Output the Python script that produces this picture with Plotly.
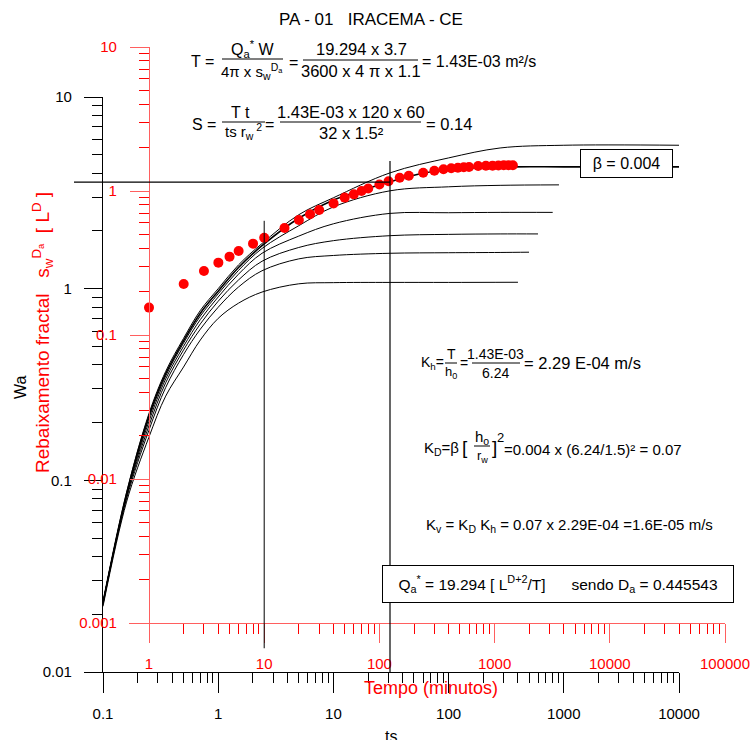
import math
import plotly.graph_objects as go

W, H = 752, 740
FONT = "Liberation Sans, Arial, sans-serif"
RED = "rgb(255,0,0)"
RED_LINE = "rgb(255,95,95)"

# ---------------- data ----------------
ts_early = [0.1, 0.16, 0.25, 0.35, 0.5, 0.7, 1, 1.5, 2.4, 5, 10, 31]

curve1_ts = ts_early + [100, 280, 1000, 10000]
curve1_wa = [0.023, 0.086, 0.222, 0.37, 0.55, 0.77, 1.0, 1.33, 1.72, 2.43, 2.98, 4.02, 4.81, 5.42, 5.6, 5.6]
curve2_ts = ts_early + [60, 120, 360, 1000, 10000]          # beta = 0.004
curve2_wa = [0.023, 0.085, 0.216, 0.36, 0.535, 0.745, 0.97, 1.29, 1.675, 2.33, 2.90, 3.61, 4.0, 4.22, 4.32, 4.32, 4.32]
curve3_ts = ts_early + [100, 280, 908]
curve3_wa = [0.023, 0.084, 0.210, 0.35, 0.52, 0.72, 0.94, 1.245, 1.62, 2.13, 2.67, 3.24, 3.40, 3.46, 3.48]
curve4_ts = ts_early + [100, 280, 801]
curve4_wa = [0.023, 0.083, 0.202, 0.338, 0.50, 0.69, 0.905, 1.19, 1.53, 1.88, 2.18, 2.47, 2.49, 2.50, 2.50]
curve5_ts = ts_early + [100, 280, 597]
curve5_wa = [0.023, 0.082, 0.192, 0.323, 0.478, 0.655, 0.86, 1.11, 1.39, 1.64, 1.78, 1.89, 1.92, 1.93, 1.93]
curve6_ts = ts_early + [100, 280, 499]
curve6_wa = [0.0225, 0.080, 0.182, 0.305, 0.453, 0.615, 0.80, 1.02, 1.24, 1.43, 1.49, 1.53, 1.54, 1.545, 1.55]
curve7_ts = ts_early + [100, 400]
curve7_wa = [0.022, 0.077, 0.1675, 0.275, 0.39, 0.54, 0.70, 0.84, 0.96, 1.06, 1.075, 1.078, 1.078, 1.08]

# observed drawdown (red)
tempo_min = [1, 2, 3, 4, 5, 6, 8, 10, 15, 20, 25, 30, 40, 50, 60, 70, 80, 100, 120, 150, 180,
             240, 300, 360, 420, 480, 540, 600, 720, 840, 960, 1080, 1200, 1320, 1440]
rebaix = [0.155, 0.226, 0.278, 0.318, 0.35, 0.383, 0.431, 0.474, 0.553, 0.629, 0.689, 0.738, 0.82,
          0.90, 0.948, 1.0, 1.04, 1.11, 1.17, 1.237, 1.277, 1.34, 1.383, 1.415, 1.438, 1.451, 1.46,
          1.468, 1.491, 1.499, 1.50, 1.505, 1.51, 1.51, 1.51]

match_ts, match_wa = 31, 3.6
ref_t = 10

bx_ticks = [0.1, 1, 10, 100, 1000, 10000]
bx_text = ["0.1", "1", "10", "100", "1000", "10000"]
by_ticks = [0.01, 0.1, 1, 10]
by_text = ["0.01", "0.1", "1", "10"]
rx_ticks = [1, 10, 100, 1000, 10000, 100000]
rx_text = ["1", "10", "100", "1000", "10000", "100000"]
ry_ticks = [0.001, 0.01, 0.1, 1, 10]
ry_text = ["0.001", "0.01", "0.1", "1", "10"]


def minors(lo, hi):
    out = []
    for e in range(lo, hi):
        for m in range(2, 10):
            out.append(m * 10 ** e)
    return out


def px(x):
    return x / W


def py(y):
    return 1 - y / H


# black axis geometry (pixels)
BX0, BX1, BY0, BY1 = 103, 679, 672, 97
# red axis geometry
RX0, RX1, RY0, RY1, RYPOS = 129, 725, 623, 47, 149
RDEC = (RX1 - RYPOS) / 5.0

fig = go.Figure()

curves = [(curve1_ts, curve1_wa, 1.0), (curve2_ts, curve2_wa, 1.6), (curve3_ts, curve3_wa, 1.0),
          (curve4_ts, curve4_wa, 1.0), (curve5_ts, curve5_wa, 1.0), (curve6_ts, curve6_wa, 1.0),
          (curve7_ts, curve7_wa, 1.0)]
for cts, cwa, lw in curves:
    fig.add_trace(go.Scatter(x=cts, y=cwa, mode="lines", xaxis="x", yaxis="y",
                             line=dict(color="black", width=lw, shape="spline", smoothing=1.0),
                             hoverinfo="skip", showlegend=False))

fig.add_trace(go.Scatter(x=tempo_min, y=rebaix, mode="markers", xaxis="x2", yaxis="y2",
                         marker=dict(color=RED, size=10, line=dict(width=0)),
                         cliponaxis=False, showlegend=False))


def axis_common(color, lcolor, ticklen, mlen, tickvals, ticktext, mvals, standoff):
    return dict(type="log", showgrid=False, zeroline=False, showline=True, linecolor=lcolor,
                linewidth=1.3, ticks="outside", ticklen=ticklen, tickwidth=1.2, tickcolor=lcolor,
                tickvals=tickvals, ticktext=ticktext, tickfont=dict(family=FONT, size=15, color=color),
                minor=dict(tickvals=mvals, ticklen=mlen, tickwidth=1.1, tickcolor=color, ticks="outside",
                           showgrid=False),
                ticklabelstandoff=standoff, automargin=False, fixedrange=True)


xa = axis_common("black", "black", 20, 10, bx_ticks, bx_text, minors(-1, 4), 8)
xa.update(range=[-1, 4], domain=[px(BX0), px(BX1)], anchor="y")
ya = axis_common("black", "black", 18, 10, by_ticks, by_text, minors(-2, 1), 9)
ya.update(range=[-2, 1], domain=[py(BY0), py(BY1)], anchor="x")
xa2 = axis_common(RED, RED_LINE, 19, 10, rx_ticks, rx_text, minors(0, 5), 8)
xa2.update(range=[-(RYPOS - RX0) / RDEC, 5], domain=[px(RX0), px(RX1)], anchor="y2")
ya2 = axis_common(RED, RED_LINE, 19, 10, ry_ticks, ry_text, minors(-3, 1), 10)
ya2.update(range=[-3, 1], domain=[py(RY0), py(RY1)], anchor="free", position=px(RYPOS))


def bx_paper(v):
    return px(BX0 + (math.log10(v) + 1) * (BX1 - BX0) / 5.0)


shapes = [
    # match-point lines
    dict(type="line", xref="paper", yref="y", x0=px(74), x1=bx_paper(match_ts), y0=match_wa, y1=match_wa,
         line=dict(color="black", width=1.2)),
    dict(type="line", xref="x", yref="y", x0=match_ts, x1=match_ts, y0=0.01, y1=4.64,
         line=dict(color="black", width=1.2)),
    dict(type="line", xref="x2", yref="y", x0=ref_t, x1=ref_t, y0=0.0133, y1=2.26,
         line=dict(color="black", width=1.0)),
]

ann = []


def txt(x, y, s, size=15, color="black", xanchor="center", **kw):
    d = dict(x=px(x), y=py(y), xref="paper", yref="paper", text=s, showarrow=False, xanchor=xanchor,
             yanchor="middle", font=dict(family=FONT, size=size, color=color))
    d.update(kw)
    ann.append(d)


def bar(x0, x1, y):
    shapes.append(dict(type="line", xref="paper", yref="paper", x0=px(x0), x1=px(x1), y0=py(y), y1=py(y),
                       line=dict(color="black", width=1)))


NB = "\u00a0"
txt(371, 20, "PA - 01" + NB * 3 + "IRACEMA - CE", size=17)

# T equation
txt(202, 61, "T =", 16)
txt(252, 49, "Q<sub>a</sub><sup>*</sup> W", 16)
bar(222, 283, 59)
txt(252, 71, "4π x s<sub>w</sub><sup>D<sub>a</sub></sup>", 15)
txt(293, 62, "=", 16)
txt(361, 49, "19.294 x 3.7", 16.5)
bar(303, 418, 60)
txt(361, 71, "3600 x 4 π x 1.1", 16.5)
txt(420, 61, "= 1.43E-03 m²/s", 16, xanchor="left")

# S equation
txt(204, 124, "S =", 16)
txt(240, 112, "T t", 16)
bar(222, 265, 122)
txt(243, 132, "ts r<sub>w</sub><sup> 2</sup>", 15)
txt(269, 124, "=", 16)
txt(351, 112, "1.43E-03 x 120 x 60", 16.5)
bar(280, 421, 122)
txt(351, 133, "32 x 1.5²", 16.5)
txt(424, 124, "= 0.14", 16.5, xanchor="left")

# Kh
txt(419, 363, "K<sub>h</sub>=", 14, xanchor="left")
txt(451, 354, "T", 14)
bar(445, 457, 363)
txt(451, 373, "h<sub>0</sub>", 13)
txt(458, 363, "=", 14, xanchor="left")
txt(496, 354, "1.43E-03", 14)
bar(472, 520, 363)
txt(496, 373, "6.24", 14)
txt(522, 363, "= 2.29 E-04 m/s", 16.5, xanchor="left")

# KD
txt(422, 448, "K<sub>D</sub>=β", 15, xanchor="left")
txt(465, 447, "[", 19)
txt(482, 437, "h<sub>o</sub>", 15)
bar(474, 490, 446)
txt(482, 456, "r<sub>w</sub>", 13)
txt(494, 447, "]", 19)
txt(500, 438, "2", 13)
txt(502, 449, "=0.004 x (6.24/1.5)² = 0.07", 15, xanchor="left")

# Kv
txt(569, 525, "K<sub>v</sub> = K<sub>D</sub> K<sub>h</sub> = 0.07 x 2.29E-04 =1.6E-05 m/s", 15)

# boxes
txt(626, 164, "β = 0.004", 16, bgcolor="white", bordercolor="black", borderwidth=1, borderpad=0,
    width=91, height=27)
txt(558, 584, "Q<sub>a</sub><sup>*</sup> = 19.294 [ L<sup>D+2</sup>/T]" + NB * 6 + "sendo D<sub>a</sub> = 0.445543",
    15.5, bgcolor="white", bordercolor="black", borderwidth=1, borderpad=0, width=350, height=36)

# axis titles
txt(431, 688, "Tempo (minutos)", 18, color=RED)
txt(391, 736, "ts", 16)
txt(20, 387, "Wa", 16, textangle=-90)
txt(43, 333, "Rebaixamento fractal" + NB * 3 + "s<sub>w</sub><sup>D<sub>a</sub></sup>" + NB * 2 +
    "[ L<sup>D</sup> ]", 19, color=RED, textangle=-90)

fig.update_layout(
    width=W, height=H, margin=dict(l=0, r=0, t=0, b=0),
    paper_bgcolor="white", plot_bgcolor="rgba(0,0,0,0)",
    xaxis=xa, yaxis=ya, xaxis2=xa2, yaxis2=ya2,
    shapes=shapes, annotations=ann, showlegend=False,
    font=dict(family=FONT),
)

fig.write_html("out.html")
